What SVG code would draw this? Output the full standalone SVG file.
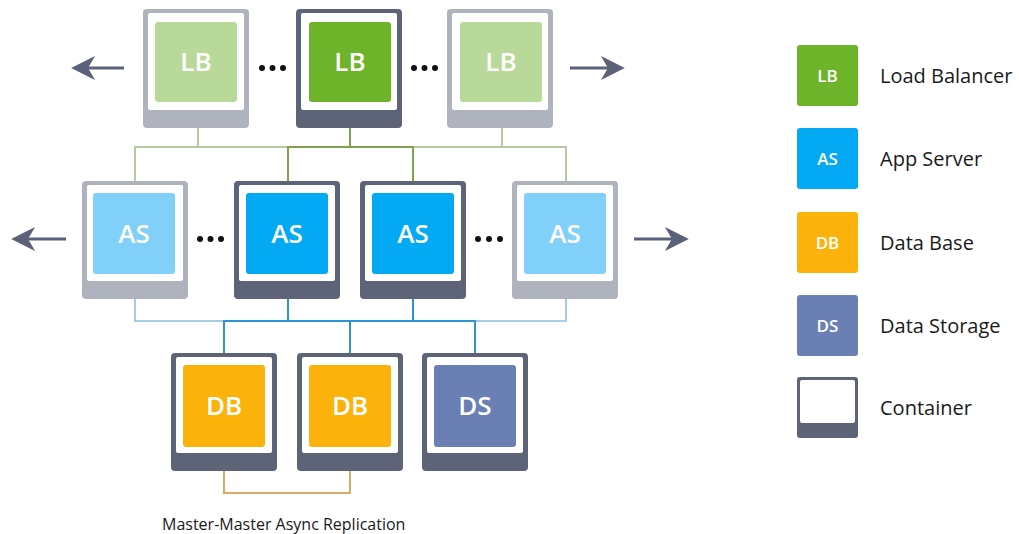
<svg xmlns="http://www.w3.org/2000/svg" width="1019" height="534" viewBox="0 0 1019 534">
<style>
.c-light{fill:#aeb3bd}
.c-dark{fill:#5d6478}
.inner{fill:#ffffff}
.lb-d{fill:#6db42b}.lb-l{fill:#b9d99a}
.as-d{fill:#04a9f4}.as-l{fill:#80d0f9}
.db{fill:#fbb30c}.ds{fill:#6a7fb4}
.lbl{font-family:"Open Sans","Liberation Sans",sans-serif;font-size:26px;font-weight:600;fill:#ffffff;text-anchor:middle}
.lg{font-family:"Open Sans","Liberation Sans",sans-serif;font-size:17px;font-weight:600;fill:#ffffff;text-anchor:middle}
.lt{font-family:"Open Sans","Liberation Sans",sans-serif;font-size:20px;fill:#1a1a1a}
.cap{font-family:"Open Sans","Liberation Sans",sans-serif;font-size:16px;fill:#1a1a1a}
.ln{fill:none;stroke-width:2}
.arr{stroke:#5b6179;stroke-width:3;fill:none;marker-end:url(#ah)}
.dot{fill:#111}
</style>
<defs>
<marker id="ah" markerWidth="8" markerHeight="8" viewBox="0 0 10 10" refX="8" refY="5" orient="auto" markerUnits="strokeWidth">
<path d="M0,0 L10,5 L0,10 L3,5 Z" fill="#5b6179"/>
</marker>
</defs>
<rect width="1019" height="534" fill="#ffffff"/>

<g id="connectors">
<path class="ln" stroke="#b7c9a4" d="M198,102 V147 M502,102 V147 M135,193 V147 H566 V193"/>
<path class="ln" stroke="#7ea34d" d="M350,102 V147 M288,193 V147 H413 V193"/>
<path class="ln" stroke="#a3cde6" d="M135,274 V321 H566 V274"/>
<path class="ln" stroke="#2d93d2" d="M288,274 V321 M413,274 V321 M224,365 V321 H475 V365 M350,321 V365"/>
<path class="ln" stroke="#d9aa66" d="M224,447 V493 H350 V447"/>
<line class="arr" x1="124" y1="68" x2="76" y2="68"/>
<line class="arr" x1="570" y1="68" x2="620" y2="68"/>
<line class="arr" x1="66" y1="239" x2="16" y2="239"/>
<line class="arr" x1="634" y1="239" x2="684" y2="239"/>
</g>

<g id="dots">
<circle class="dot" cx="262" cy="68" r="3"/><circle class="dot" cx="272.5" cy="68" r="3"/><circle class="dot" cx="283" cy="68" r="3"/>
<circle class="dot" cx="414" cy="68" r="3"/><circle class="dot" cx="424.5" cy="68" r="3"/><circle class="dot" cx="435" cy="68" r="3"/>
<circle class="dot" cx="200" cy="239" r="3"/><circle class="dot" cx="210.5" cy="239" r="3"/><circle class="dot" cx="221" cy="239" r="3"/>
<circle class="dot" cx="478" cy="239" r="3"/><circle class="dot" cx="489" cy="239" r="3"/><circle class="dot" cx="500" cy="239" r="3"/>
</g>

<g id="lb1">
<rect class="c-light" x="143" y="9" width="106" height="119" rx="4"/>
<rect class="inner" x="148" y="13" width="96" height="97" rx="2"/>
<rect class="lb-l" x="155" y="22" width="82" height="80" rx="3"/>
<text class="lbl" x="196" y="71">LB</text>
</g>
<g id="lb2">
<rect class="c-dark" x="296" y="9" width="106" height="119" rx="4"/>
<rect class="inner" x="301" y="13" width="96" height="97" rx="2"/>
<rect class="lb-d" x="309" y="22" width="82" height="80" rx="3"/>
<text class="lbl" x="350" y="71">LB</text>
</g>
<g id="lb3">
<rect class="c-light" x="447" y="9" width="106" height="119" rx="4"/>
<rect class="inner" x="452" y="13" width="96" height="97" rx="2"/>
<rect class="lb-l" x="460" y="22" width="82" height="80" rx="3"/>
<text class="lbl" x="501" y="71">LB</text>
</g>

<g id="as1">
<rect class="c-light" x="82" y="181" width="106" height="118" rx="4"/>
<rect class="inner" x="87" y="185" width="96" height="96" rx="2"/>
<rect class="as-l" x="93" y="193" width="82" height="81" rx="3"/>
<text class="lbl" x="134" y="243">AS</text>
</g>
<g id="as2">
<rect class="c-dark" x="234" y="181" width="106" height="118" rx="4"/>
<rect class="inner" x="239" y="185" width="96" height="96" rx="2"/>
<rect class="as-d" x="246" y="193" width="82" height="81" rx="3"/>
<text class="lbl" x="287" y="243">AS</text>
</g>
<g id="as3">
<rect class="c-dark" x="360" y="181" width="106" height="118" rx="4"/>
<rect class="inner" x="365" y="185" width="96" height="96" rx="2"/>
<rect class="as-d" x="372" y="193" width="82" height="81" rx="3"/>
<text class="lbl" x="413" y="243">AS</text>
</g>
<g id="as4">
<rect class="c-light" x="512" y="181" width="106" height="118" rx="4"/>
<rect class="inner" x="517" y="185" width="96" height="96" rx="2"/>
<rect class="as-l" x="524" y="193" width="82" height="81" rx="3"/>
<text class="lbl" x="565" y="243">AS</text>
</g>

<g id="db1">
<rect class="c-dark" x="171" y="353" width="106" height="118" rx="4"/>
<rect class="inner" x="176" y="357" width="96" height="96" rx="2"/>
<rect class="db" x="183" y="365" width="82" height="82" rx="3"/>
<text class="lbl" x="224" y="415">DB</text>
</g>
<g id="db2">
<rect class="c-dark" x="297" y="353" width="106" height="118" rx="4"/>
<rect class="inner" x="302" y="357" width="96" height="96" rx="2"/>
<rect class="db" x="309" y="365" width="82" height="82" rx="3"/>
<text class="lbl" x="350" y="415">DB</text>
</g>
<g id="ds">
<rect class="c-dark" x="422" y="353" width="106" height="118" rx="4"/>
<rect class="inner" x="427" y="357" width="96" height="96" rx="2"/>
<rect class="ds" x="434" y="365" width="82" height="82" rx="3"/>
<text class="lbl" x="475" y="415">DS</text>
</g>

<text id="replication-label" class="cap" x="162" y="530">Master-Master Async Replication</text>

<g id="legend">
<g id="legend-lb">
<rect class="lb-d" x="797" y="45" width="61" height="61" rx="3"/>
<text class="lg" x="827.5" y="82">LB</text>
<text class="lt" x="880" y="83">Load Balancer</text>
</g>
<g id="legend-as">
<rect class="as-d" x="797" y="128" width="61" height="61" rx="3"/>
<text class="lg" x="827.5" y="165">AS</text>
<text class="lt" x="880" y="166">App Server</text>
</g>
<g id="legend-db">
<rect class="db" x="797" y="212" width="61" height="61" rx="3"/>
<text class="lg" x="827.5" y="249">DB</text>
<text class="lt" x="880" y="250">Data Base</text>
</g>
<g id="legend-ds">
<rect class="ds" x="797" y="295" width="61" height="61" rx="3"/>
<text class="lg" x="827.5" y="332">DS</text>
<text class="lt" x="880" y="333">Data Storage</text>
</g>
<g id="legend-container">
<rect class="c-dark" x="797" y="377" width="61" height="61" rx="3"/>
<rect class="inner" x="800" y="380" width="55" height="43" rx="2"/>
<text class="lt" x="880" y="415">Container</text>
</g>
</g>
</svg>
